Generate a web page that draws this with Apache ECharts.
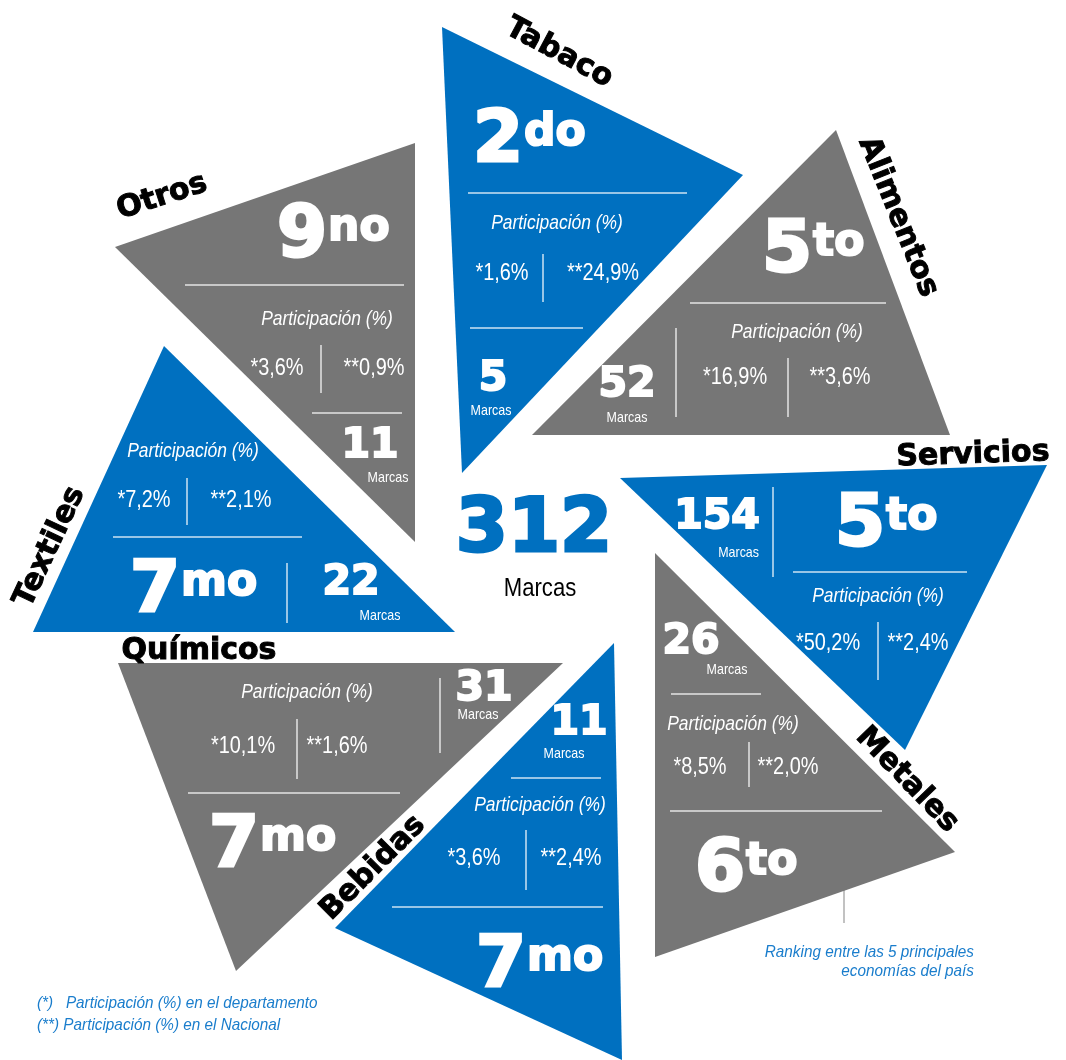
<!DOCTYPE html>
<html>
<head>
<meta charset="utf-8">
<script src="https://cdn.jsdelivr.net/npm/echarts@6/dist/echarts.min.js"></script>
<style>
    html, body { margin: 0; padding: 0; background: #fff; }
    #chart { width: 1066px; height: 1060px; }
</style>
</head>
<body>
<div id="chart"></div>
<script>
// Data
const sectors = ['Tabaco', 'Alimentos', 'Servicios', 'Metales', 'Bebidas', 'Químicos', 'Textiles', 'Otros']
const rankNum = ['2', '5', '5', '6', '7', '7', '7', '9']
const rankSuffix = ['do', 'to', 'to', 'to', 'mo', 'mo', 'mo', 'no']
const marcas = [5, 52, 154, 26, 11, 31, 22, 11]
const partDepto = [1.6, 16.9, 50.2, 8.5, 3.6, 10.1, 7.2, 3.6]
const partNacional = [24.9, 3.6, 2.4, 2.0, 2.4, 1.6, 2.1, 0.9]
const totalMarcas = 312

// Styles
const BLUE = '#0070C0'
const GRAY = '#767676'
const NOTE = '#1a7dcc'
const HEAVY = '"DejaVu Sans", sans-serif'
const NARROW = '"Liberation Sans", Arial, sans-serif'
const NARROW_SX = 0.83   // squeeze Arial-like text into an "Arial Narrow" look
const RULE = 'rgba(255,255,255,0.8)'

// Layout of each triangle (pixel space of the hidden grid)
const layout = [
    { tri: [[442, 27], [743, 175], [462, 473]], color: BLUE, label: [559, 53, -28], rank: [473, 163],
      hl: [[468, 687, 193], [470, 583, 328]], vl: [[543, 254, 302]], part: [557, 223], vals: [502, 603, 273],
      num: [493, 378], marc: [491, 411, 'center'] },
    { tri: [[836, 130], [950, 435], [532, 435]], color: GRAY, label: [898, 217, -68], rank: [762, 273],
      hl: [[690, 886, 303]], vl: [[788, 358, 417], [676, 328, 417]], part: [797, 332], vals: [735, 840, 377],
      num: [627, 384], marc: [627, 418, 'center'] },
    { tri: [[620, 478], [1047, 465], [905, 750]], color: BLUE, label: [973, 455, 2], rank: [835, 547],
      hl: [[793, 967, 572]], vl: [[878, 622, 680], [773, 487, 577]], part: [878, 596], vals: [828, 918, 643],
      num: [717, 516], marc: [759, 553, 'right'] },
    { tri: [[655, 553], [955, 852], [655, 957]], color: GRAY, label: [907, 780, -46], rank: [695, 892],
      hl: [[671, 761, 694], [670, 882, 811]], vl: [[749, 742, 787]], part: [733, 724], vals: [700, 788, 767],
      num: [691, 641], marc: [727, 670, 'center'] },
    { tri: [[614, 643], [622, 1060], [335, 928]], color: BLUE, label: [373, 868, 45], rank: [476, 988],
      hl: [[511, 601, 778], [392, 603, 907]], vl: [[526, 830, 890]], part: [540, 805], vals: [474, 571, 858],
      num: [579, 722], marc: [564, 754, 'center'] },
    { tri: [[118, 663], [563, 663], [236, 971]], color: GRAY, label: [199, 651, 0], rank: [209, 868],
      hl: [[188, 400, 793]], vl: [[297, 719, 779], [440, 678, 753]], part: [307, 692], vals: [243, 337, 746],
      num: [484, 688], marc: [478, 715, 'center'] },
    { tri: [[164, 346], [455, 632], [33, 632]], color: BLUE, label: [50, 547, 65], rank: [130, 613],
      hl: [[113, 302, 537]], vl: [[187, 478, 525], [287, 563, 623]], part: [193, 451], vals: [144, 241, 500],
      num: [351, 582], marc: [380, 616, 'center'] },
    { tri: [[415, 143], [115, 247], [415, 542]], color: GRAY, label: [162, 197, 18], rank: [277, 258],
      hl: [[185, 404, 285], [312, 402, 413]], vl: [[321, 345, 393]], part: [327, 319], vals: [277, 374, 368],
      num: [370, 445], marc: [388, 478, 'center'] }
]

const RANK_SIZE = 72
const SUFFIX_SIZE = 44

const measureCtx = document.createElement('canvas').getContext('2d')
function textWidth(text, size) {
    measureCtx.font = `bold ${size}px ${HEAVY}`
    return measureCtx.measureText(text).width
}

function pct(v) {
    return v.toFixed(1).replace('.', ',') + '%'
}

function txt(text, x, y, opts) {
    const heavy = opts.family === HEAVY
    return {
        type: 'text',
        x: x,
        y: y,
        rotation: (opts.rot || 0) * Math.PI / 180,
        scaleX: opts.sx || (heavy ? 1 : NARROW_SX),
        style: {
            text: text,
            fill: opts.fill || '#fff',
            stroke: opts.thick ? (opts.fill || '#fff') : null,
            lineWidth: opts.thick || 0,
            fontSize: opts.size,
            fontFamily: opts.family || NARROW,
            fontWeight: opts.weight || 'normal',
            fontStyle: opts.style || 'normal',
            align: opts.align || 'center',
            verticalAlign: 'middle'
        }
    }
}

function renderSector(params, api) {
    const i = params.dataIndex
    const L = layout[i]
    const P = (x, y) => api.coord([x, y])
    const children = []

    children.push({
        type: 'polygon',
        shape: { points: L.tri.map(p => P(p[0], p[1])) },
        style: { fill: L.color }
    })

    L.hl.forEach(h => {
        const a = P(h[0], h[2]), b = P(h[1], h[2])
        children.push({ type: 'line', shape: { x1: a[0], y1: a[1], x2: b[0], y2: b[1] }, style: { stroke: RULE, lineWidth: 1.5 } })
    })
    L.vl.forEach(v => {
        const a = P(v[0], v[1]), b = P(v[0], v[2])
        children.push({ type: 'line', shape: { x1: a[0], y1: a[1], x2: b[0], y2: b[1] }, style: { stroke: RULE, lineWidth: 1.5 } })
    })

    // sector name
    const lp = P(L.label[0], L.label[1])
    children.push(txt(sectors[i], lp[0], lp[1], { fill: '#000', size: 30, family: HEAVY, weight: 'bold', rot: L.label[2], thick: 1 }))

    // rank, e.g. 2do
    const rp = P(L.rank[0], L.rank[1])
    const w = textWidth(rankNum[i], RANK_SIZE)
    children.push(txt(rankNum[i], rp[0], rp[1] - 0.29 * RANK_SIZE, { size: RANK_SIZE, family: HEAVY, weight: 'bold', align: 'left', thick: 3 }))
    children.push(txt(rankSuffix[i], rp[0] + w + 1, rp[1] - 16 - 0.30 * SUFFIX_SIZE, { size: SUFFIX_SIZE, family: HEAVY, weight: 'bold', align: 'left', thick: 2 }))

    // participation
    const pp = P(L.part[0], L.part[1])
    children.push(txt('Participación (%)', pp[0], pp[1], { size: 21, style: 'italic' }))
    const d = P(L.vals[0], L.vals[2]), n = P(L.vals[1], L.vals[2])
    children.push(txt('*' + pct(partDepto[i]), d[0], d[1], { size: 24 }))
    children.push(txt('**' + pct(partNacional[i]), n[0], n[1], { size: 24 }))

    // brands
    const np = P(L.num[0], L.num[1])
    children.push(txt(String(marcas[i]), np[0], np[1] + 1, { size: 41, family: HEAVY, weight: 'bold', thick: 2 }))
    const mp = P(L.marc[0], L.marc[1])
    children.push(txt('Marcas', mp[0], mp[1], { size: 15, align: L.marc[2] }))

    return { type: 'group', children: children }
}

function note(text, x, y, align) {
    return {
        type: 'text', x: x, y: y, scaleX: 0.9,
        style: { text: text, fill: NOTE, fontSize: 17, fontFamily: NARROW, fontStyle: 'italic', align: align, verticalAlign: 'middle' }
    }
}

const chart = echarts.init(document.getElementById('chart'))

chart.setOption({
    animation: false,
    grid: { left: 0, right: 0, top: 0, bottom: 0 },
    xAxis: { type: 'value', min: 0, max: 1066, show: false },
    yAxis: { type: 'value', min: 0, max: 1060, inverse: true, show: false },
    graphic: [
        { type: 'text', x: 534, y: 532, style: { text: String(totalMarcas), fill: BLUE, stroke: BLUE, lineWidth: 3, fontSize: 75, fontFamily: HEAVY, fontWeight: 'bold', align: 'center', verticalAlign: 'middle' } },
        { type: 'text', x: 540, y: 589, scaleX: 0.85, style: { text: 'Marcas', fill: '#000', fontSize: 26, fontFamily: NARROW, align: 'center', verticalAlign: 'middle' } },
        { type: 'polyline', shape: { points: [[810, 861], [844, 861], [844, 923]] }, style: { stroke: '#9a9a9a', lineWidth: 1.2, fill: null } },
        note('Ranking entre las 5 principales', 974, 952, 'right'),
        note('economías del país', 974, 971, 'right'),
        note('(*)   Participación (%) en el departamento', 37, 1003, 'left'),
        note('(**) Participación (%) en el Nacional', 37, 1025, 'left')
    ],
    series: [
        {
            type: 'custom',
            coordinateSystem: 'cartesian2d',
            clip: false,
            silent: true,
            renderItem: renderSector,
            data: sectors.map((s, i) => [i, 0])
        }
    ]
})
</script>
</body>
</html>
